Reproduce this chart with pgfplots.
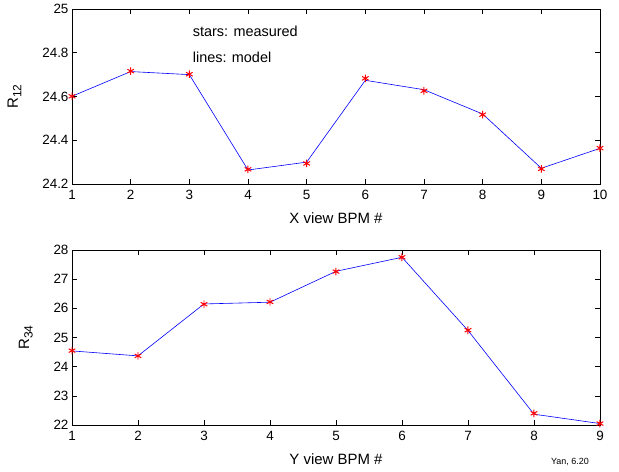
\documentclass[border=0pt]{standalone}
\usepackage{pgfplots}
\pgfplotsset{compat=1.18}
\usepackage{fontspec}
\setmainfont{Liberation Sans}

\newcommand{\sub}[1]{\raisebox{-0.45ex}{\fontsize{12}{14}\selectfont #1}}

\pgfplotsset{
  bpm/.style={
    scale only axis,
    width=528bp, height=175bp,
    axis line style={line width=0.8pt},
    tick align=inside,
    xtick pos=both, ytick pos=both,
    major tick length=5bp,
    tick style={line width=0.6pt, black},
    tick label style={font=\fontsize{13.5}{15}\selectfont},
    xticklabel style={yshift=-3bp},
    label style={font=\fontsize{15}{17}\selectfont},
    xlabel style={yshift=-6bp},
    ylabel style={yshift=14bp},
    /pgf/number format/assume math mode=true,
    scaled y ticks=false,
    xtick=data,
  },
  model/.style={blue, line width=0.6pt, no marks},
  meas/.style={only marks, red, mark=asterisk, mark size=3.8bp, mark options={line width=1pt}},
}

\begin{document}
\begin{tikzpicture}
  \begin{axis}[bpm,
      at={(72bp,288bp)}, anchor=south west,
      xmin=1, xmax=10, ymin=24.2, ymax=25,
      ytick={24.2,24.4,24.6,24.8,25},
      yticklabels={24.2,24.4,24.6,24.8,25},
      xlabel={X view BPM \#},
      ylabel={R\sub{12}},
    ]
    \addplot[model] coordinates {
      (1,24.601) (2,24.714) (3,24.700) (4,24.264) (5,24.300)
      (6,24.674) (7,24.631) (8,24.520) (9,24.272) (10,24.363)
    };
    \addplot[meas] coordinates {
      (1,24.601) (2,24.716) (3,24.702) (4,24.267) (5,24.294)
      (6,24.683) (7,24.626) (8,24.517) (9,24.269) (10,24.364)
    };
    \node[anchor=west, font=\fontsize{14.5}{16}\selectfont] at (axis cs:3.0,24.90) {stars: measured};
    \node[anchor=west, font=\fontsize{14.5}{16}\selectfont] at (axis cs:3.0,24.78) {lines: model};
  \end{axis}

  \begin{axis}[bpm,
      at={(72bp,47bp)}, anchor=south west,
      xmin=1, xmax=9, ymin=22, ymax=28,
      ytick={22,23,...,28},
      xlabel={Y view BPM \#},
      ylabel={R\sub{34}},
    ]
    \addplot[model] coordinates {
      (1,24.54) (2,24.37) (3,26.15) (4,26.21) (5,27.27)
      (6,27.75) (7,25.24) (8,22.37) (9,22.05)
    };
    \addplot[meas] coordinates {
      (1,24.55) (2,24.37) (3,26.14) (4,26.22) (5,27.26)
      (6,27.75) (7,25.25) (8,22.40) (9,22.05)
    };
  \end{axis}

  \node[anchor=center, font=\fontsize{9}{11}\selectfont] at (570bp,10bp) {Yan, 6.20};

  \pgfresetboundingbox
  \path (0,0) rectangle (619bp,472bp);
\end{tikzpicture}
\end{document}
